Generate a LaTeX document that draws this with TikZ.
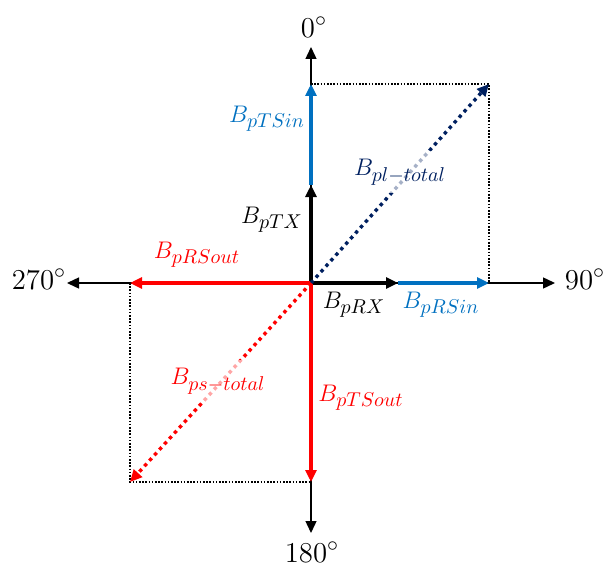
\documentclass[tikz,border=0pt]{standalone}
\usepackage{amsmath}
\usepackage{xcolor}
\usetikzlibrary{arrows.meta,positioning}
\DeclareMathSizes{13}{13}{10.4}{8.1}
\definecolor{pblue}{RGB}{0,112,192}
\definecolor{pnavy}{RGB}{0,32,96}
\definecolor{pred}{RGB}{255,0,0}

\begin{document}
\begin{tikzpicture}[x=0.5pt,y=-0.5pt,
  axis/.style={line width=0.7pt, -{Triangle[length=6pt,width=5.5pt]}},
  vecline/.style={line width=2pt, -{Triangle[length=6pt,width=5.5pt]}},
  dotbox/.style={line width=0.8pt, dash pattern=on 0.8pt off 0.8pt},
  diag/.style={line width=1.7pt, dash pattern=on 1.7pt off 2pt, -{Triangle[length=6pt,width=5.5pt]}},
  lbl/.style={inner sep=1pt, font=\fontsize{13}{16}\selectfont},
  fadelbl/.style={lbl, fill=white, fill opacity=0.65, text opacity=1, inner sep=4pt},
  deg/.style={inner sep=1pt, font=\fontsize{15}{18}\selectfont}]
\useasboundingbox (0,0) rectangle (604,567);

% Points
\coordinate (O) at (311,283);
\coordinate (top) at (311,47);
\coordinate (right) at (555,283);
\coordinate (left) at (67,283);
\coordinate (bottom) at (311,533);
\coordinate (tx) at (311,185);
\coordinate (tsin) at (311,84);
\coordinate (rx) at (398,283);
\coordinate (rsin) at (489,283);
\coordinate (rsout) at (130,283);
\coordinate (tsout) at (311,482);
\coordinate (pl) at (489,84);
\coordinate (ps) at (130,482);

% Dotted boxes
\draw[dotbox] (tsin) -- (pl) -- (rsin);
\draw[dotbox] (rsout) -- (ps) -- (tsout);

% Axes
\draw[axis] (O) -- (top);
\draw[axis] (O) -- (right);
\draw[axis] (O) -- (left);
\draw[axis] (O) -- (bottom);

% Vectors
\draw[vecline, pblue] (tx) -- (tsin);
\draw[vecline, black] (O) -- (tx);
\draw[vecline, pblue] (rx) -- (rsin);
\draw[vecline, black] (O) -- (rx);
\draw[vecline, pred] (O) -- (rsout);
\draw[vecline, pred] (O) -- (tsout);

% Totals
\draw[diag, pnavy] (O) -- (pl);
\draw[diag, pred] (O) -- (ps);

% Labels
\node[deg] (d0) at (314,27) {$0^{\circ}$};
\node[deg] (d90) at (585,279) {$90^{\circ}$};
\node[deg] (d270) at (39,279) {$270^{\circ}$};
\node[deg] (d180) at (312,552) {$180^{\circ}$};
\node[lbl, text=pblue] (ltsin) at (267,119) {$B_{pTSin}$};
\node[lbl] (ltx) at (272,220) {$B_{pTX}$};
\node[fadelbl, text=pnavy] (lpl) at (400,172) {$B_{pl-total}$};
\node[lbl, text=pred] (lrsout) at (197,255) {$B_{pRSout}$};
\node[lbl] (lrx) at (354,305) {$B_{pRX}$};
\node[lbl, text=pblue] (lrsin) at (441,305) {$B_{pRSin}$};
\node[fadelbl, text=pred] (lps) at (218,381) {$B_{ps-total}$};
\node[lbl, text=pred] (ltsout) at (361,398) {$B_{pTSout}$};
\end{tikzpicture}
\end{document}
